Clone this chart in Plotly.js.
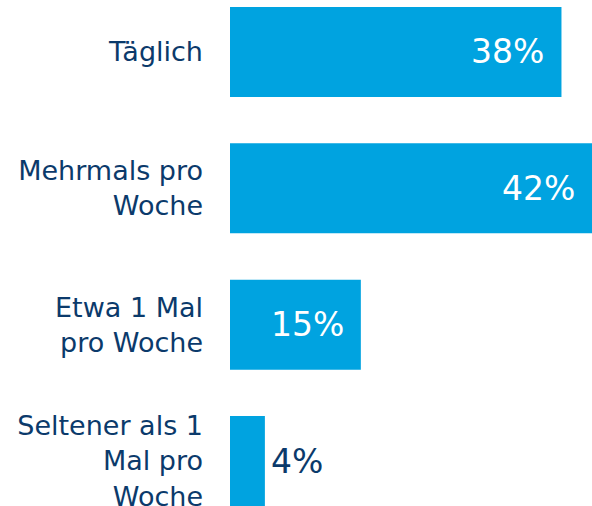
<!DOCTYPE html>
<html>
<head>
<meta charset="utf-8">
<script src="https://cdn.plot.ly/plotly-3.0.1.min.js"></script>
<style>html,body{margin:0;padding:0;background:#fff;}#chart{width:592px;height:506px;}</style>
</head>
<body>
<div id="chart"></div>
<script>
const categories = ["Täglich", "Mehrmals pro<br>Woche", "Etwa 1 Mal<br>pro Woche", "Seltener als 1<br>Mal pro<br>Woche"];
const values = [38, 42, 15, 4];
const valueLabels = ["38%", "42%", "15%", "4%"];

const barColor = "#00A3E0";
const navy = "#0B3A6B";
const font = "DejaVu Sans, Verdana, sans-serif";
const xMax = 41.5;

const annotations = values.map((v, i) => {
  const inside = v >= 10;
  return {
    x: Math.min(v, xMax), y: categories[i], xref: "x", yref: "y",
    text: valueLabels[i], showarrow: false,
    xanchor: inside ? "right" : "left",
    xshift: inside ? -15 : 4,
    yanchor: "middle",
    font: {family: font, size: 33, color: inside ? "#ffffff" : navy}
  };
});

Plotly.newPlot("chart", [{
  type: "bar", orientation: "h",
  x: values, y: categories,
  marker: {color: barColor},
  width: 0.66,
  hoverinfo: "none"
}], {
  width: 592, height: 506,
  margin: {l: 230, r: 0, t: 7, b: 0, pad: 0},
  paper_bgcolor: "#fff", plot_bgcolor: "#fff",
  showlegend: false,
  xaxis: {range: [0, xMax], visible: false, fixedrange: true},
  yaxis: {
    type: "category", range: [3.33, -0.33],
    showgrid: false, zeroline: false, showline: false, ticks: "",
    ticklabelstandoff: 26,
    tickfont: {family: font, size: 27, color: navy}
  },
  annotations: annotations
}, {staticPlot: true});
</script>
</body>
</html>
